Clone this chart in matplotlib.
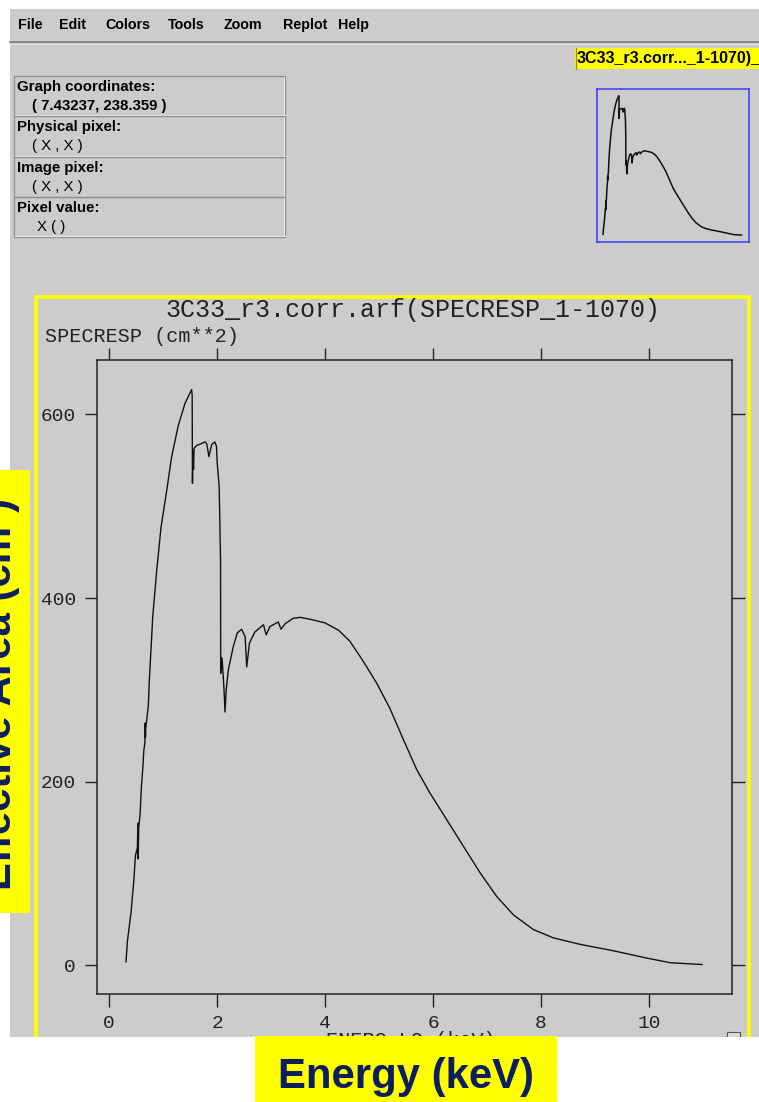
import matplotlib
matplotlib.use("Agg")
import matplotlib.pyplot as plt
from matplotlib.patches import Rectangle
from matplotlib.lines import Line2D

# ---------------- data ----------------
energy_kev = [0.315, 0.34, 0.41, 0.46, 0.49, 0.525, 0.535, 0.54, 0.55, 0.575,
              0.60, 0.625, 0.643, 0.665, 0.67, 0.675, 0.68, 0.727, 0.747, 0.81,
              0.883, 0.963, 1.068, 1.16, 1.283, 1.407, 1.53, 1.54, 1.545, 1.555,
              1.565, 1.575, 1.62, 1.70, 1.78, 1.81, 1.85, 1.90, 1.96, 1.99,
              2.005, 2.04, 2.065, 2.068, 2.085, 2.10, 2.13, 2.148, 2.17, 2.21,
              2.30, 2.375, 2.455, 2.52, 2.55, 2.60, 2.70, 2.86, 2.91, 2.98,
              3.135, 3.185, 3.26, 3.41, 3.54, 3.72, 4.00, 4.25, 4.46, 4.71,
              4.96, 5.20, 5.45, 5.70, 5.94, 6.25, 6.56, 6.87, 7.18, 7.49,
              7.86, 8.23, 8.72, 9.34, 9.96, 10.39, 10.98]
specresp_cm2 = [4, 26, 59, 93, 120, 128, 155, 116, 150, 164,
                195, 214, 233, 243, 264, 248, 258, 282, 311, 380,
                430, 477, 517, 554, 588, 612, 627, 620, 525, 560,
                540, 563, 566, 568, 570, 568, 554, 567, 570, 565,
                546, 521, 441, 318, 335, 329, 300, 276, 300, 322,
                347, 362, 366, 358, 325, 351, 363, 371, 360, 369,
                374, 366, 372, 378, 379, 377, 373, 365, 353, 331,
                307, 280, 246, 213, 188, 159, 130, 101, 75, 55,
                39, 30, 23, 16, 8, 3, 1]

x_ticks = [0, 2, 4, 6, 8, 10]
y_ticks = [0, 200, 400, 600]
x_tick_labels = ["0", "2", "4", "6", "8", "10"]
y_tick_labels = ["0", "200", "400", "600"]

menu_items = ["File", "Edit", "Colors", "Tools", "Zoom", "Replot", "Help"]
info_rows = [("Graph coordinates:", "( 7.43237, 238.359 )"),
             ("Physical pixel:", "( X , X )"),
             ("Image pixel:", "( X , X )"),
             ("Pixel value:", "X ( )")]

plot_title = "3C33_r3.corr.arf(SPECRESP_1-1070)"
y_axis_title = "SPECRESP (cm**2)"
x_axis_title = "ENERG_LO (keV)"
tab_label = "3C33_r3.corr..._1-1070)_"
big_xlabel = "Energy (keV)"
big_ylabel = "Effective Area (cm\u00b2)"

# ---------------- layout helpers (pixel coords, origin top-left) ----------------
W, H = 759, 1102
fig = plt.figure(figsize=(W / 100, H / 100), dpi=100)
fig.patch.set_facecolor("white")

GRAY = "#cccccc"
YEL = "#ffff00"
NAVY = "#0c1e5e"
MONO = "Liberation Mono"
SANS = "Liberation Sans"


def fx(px):
    return px / W


def fy(py):
    return 1 - py / H


def prect(x0, y0, x1, y1, **kw):
    r = Rectangle((fx(x0), fy(y1)), fx(x1) - fx(x0), fy(y0) - fy(y1),
                  transform=fig.transFigure, **kw)
    fig.add_artist(r)
    return r


def pline(xs, ys, **kw):
    ln = Line2D([fx(v) for v in xs], [fy(v) for v in ys], transform=fig.transFigure, **kw)
    fig.add_artist(ln)
    return ln


def ptext(x, y, s, **kw):
    return fig.text(fx(x), fy(y), s, **kw)


# window background
prect(10, 9, 759, 1036.5, facecolor=GRAY, edgecolor="none", zorder=-10)

# menu bar
menu_x = [18, 59, 105, 168, 224, 283, 338]
for mx, item in zip(menu_x, menu_items):
    ptext(mx, 25, item, fontsize=10.3, fontweight="bold", family=SANS,
          ha="left", va="center", color="black", zorder=3)
pline([10, 759], [42.3, 42.3], color="#7a7a7a", lw=1.2, zorder=2)
pline([10, 759], [43.5, 43.5], color="#e6e6e6", lw=0.6, zorder=2)

# tab label (top right)
prect(575, 48, 760, 69, facecolor=YEL, edgecolor="none", zorder=1)
pline([575.5, 575.5], [48, 69], color="#8a8a3a", lw=0.9, zorder=2)
ptext(577, 58.5, tab_label, fontsize=11.5, fontweight="bold", family=SANS,
      ha="left", va="center", color="black", zorder=3)

# info panel
cell_edges = [76, 116, 156.7, 197.3, 236.7]
for i, (head, val) in enumerate(info_rows):
    y0, y1 = cell_edges[i], cell_edges[i + 1]
    prect(14.3, y0, 285, y1, facecolor="none", edgecolor="#8e8e8e", lw=0.9, zorder=2)
    pline([15, 285], [y1 - 0.8, y1 - 0.8], color="#ececec", lw=0.7, zorder=2)
    pline([284.3, 284.3], [y0 + 1, y1 - 1], color="#ececec", lw=0.7, zorder=2)
    ptext(17, y0 + 11, head, fontsize=10.8, fontweight="bold", family=SANS,
          ha="left", va="center", color="black", zorder=3)
    vx = 36.7 if val.startswith("X") else 31.7
    vw = "bold" if i == 0 else "normal"
    ptext(vx, y0 + 30, val, fontsize=10.8, fontweight=vw, family=SANS,
          ha="left", va="center", color="black", zorder=3)

# thumbnail (panner)
tax = fig.add_axes([fx(597), fy(241.5), fx(749) - fx(597), fy(89) - fy(241.5)])
tax.set_facecolor("none")
tax.plot(energy_kev, specresp_cm2, color="#111111", lw=1.1)
tax.set_xlim(-0.15, 11.55)
tax.set_ylim(-28, 657)
tax.set_xticks([])
tax.set_yticks([])
for sp in tax.spines.values():
    sp.set_color("#3c3cf5")
    sp.set_linewidth(1.1)

# yellow highlight round the plot
pline([36.3, 36.3, 748.5, 748.5], [1100, 296.7, 296.7, 1100], color=YEL, lw=2.7,
      solid_joinstyle="miter", zorder=1)

# main plot
ax = fig.add_axes([fx(96.7), fy(994.3), fx(731.7) - fx(96.7), fy(360) - fy(994.3)])
ax.set_facecolor("none")
ax.plot(energy_kev, specresp_cm2, color="#111111", lw=1.0)
ax.set_xlim(-0.228, 11.53)
ax.set_ylim(-31.4, 659.2)
ax.set_xticks(x_ticks)
ax.set_xticklabels(x_tick_labels)
ax.set_yticks(y_ticks)
ax.set_yticklabels(y_tick_labels)
ax.tick_params(direction="out", length=9, width=1.0, color="#222222",
               top=True, right=True, labeltop=False, labelright=False,
               labelsize=14, labelcolor="#222222")
ax.tick_params(axis="x", pad=6)
ax.tick_params(axis="y", pad=6)
for lab in ax.get_xticklabels() + ax.get_yticklabels():
    lab.set_family(MONO)
for sp in ax.spines.values():
    sp.set_color("#222222")
    sp.set_linewidth(1.1)

ptext(412.5, 310, plot_title, fontsize=18, family=MONO, ha="center", va="center",
      color="#222222", zorder=3)
ptext(45, 337, y_axis_title, fontsize=14.5, family=MONO, ha="left", va="center",
      color="#222222", zorder=3)
ptext(411, 1046.5, x_axis_title, fontsize=14.5, family=MONO, ha="center", va="baseline",
      color="#222222", zorder=3)

# resize grip
prect(727, 1032, 740, 1037, facecolor="#dddddd", edgecolor="#555555", lw=0.8, zorder=3)

# white area below the screenshot
prect(0, 1036.5, 759, 1102, facecolor="white", edgecolor="none", zorder=4)

# big annotation labels
prect(255, 1036, 557, 1102, facecolor=YEL, edgecolor="none", zorder=5)
ptext(406, 1088, big_xlabel, fontsize=30.2, fontweight="bold", family=SANS,
      ha="center", va="baseline", color=NAVY, zorder=6)

prect(0, 470, 30, 913, facecolor=YEL, edgecolor="none", zorder=5)
lt = ptext(10.5, 890, big_ylabel, fontsize=30.2, fontweight="bold", family=SANS,
           ha="left", va="baseline", rotation=90, rotation_mode="anchor",
           color=NAVY, zorder=6)

fig.savefig("out.png", dpi=100, facecolor=fig.get_facecolor())
